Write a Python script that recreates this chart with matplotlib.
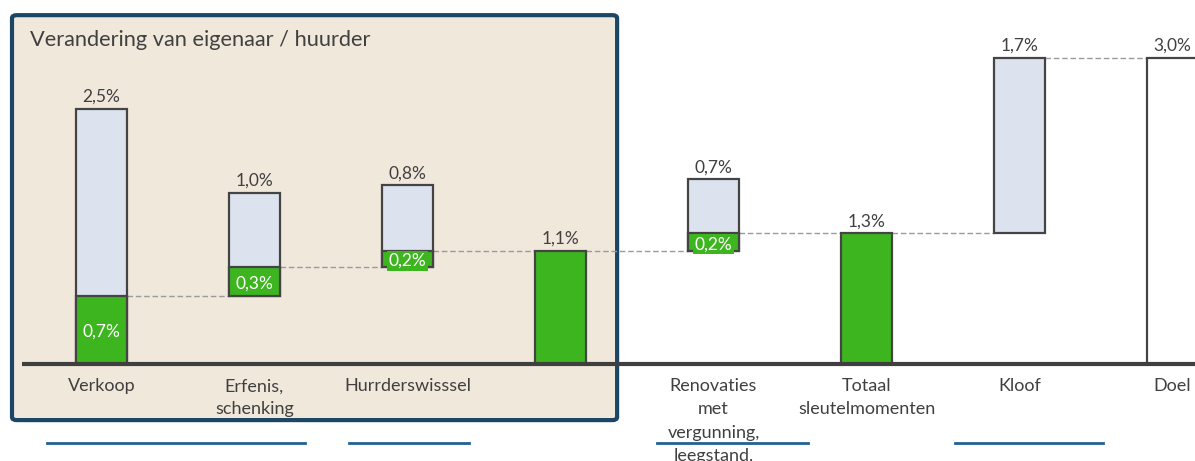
import matplotlib
matplotlib.use("Agg")
import matplotlib.pyplot as plt
from matplotlib.patches import FancyBboxPatch

plt.rcParams['font.family'] = ['Lato', 'DejaVu Sans']

# Waterfall data (percent)
categories = ['Verkoop', 'Erfenis,\nschenking', 'Hurrderswisssel', '',
              'Renovaties\nmet\nvergunning,\nleegstand,', 'Totaal\nsleutelmomenten',
              'Kloof', 'Doel']

# light grey-blue bars (bottom, top) and their label
light_bottom = [0.00, 0.67, 0.95, None, 1.11, None, 1.28, None]
light_top = [2.50, 1.68, 1.75, None, 1.81, None, 3.00, None]
light_labels = ['2,5%', '1,0%', '0,8%', None, '0,7%', None, '1,7%', None]

# green bars (bottom, top) and their label
green_bottom = [0.00, 0.67, 0.95, 0.00, 1.11, 0.00, None, None]
green_top = [0.67, 0.95, 1.11, 1.11, 1.28, 1.28, None, None]
green_inner_labels = ['0,7%', '0,3%', '0,2%', None, '0,2%', None, None, None]
green_top_labels = [None, None, None, '1,1%', None, '1,3%', None, None]

# target bar
goal_value = 3.0
goal_label = '3,0%'

# running level after each bar, used for the dashed connectors
levels = [0.67, 0.95, 1.11, 1.11, 1.28, 1.28, 3.00]

# decorative underlines below the labels (in category units)
underline_spans = [(-0.356, 1.33), (1.618, 2.402), (3.63, 4.618), (5.578, 6.546)]

GREEN = '#3db51f'
LIGHT = '#dce3ee'
EDGE = '#444444'
TEXT = '#404040'
BEIGE = '#f1e8dc'
NAVY = '#1c4666'
BLUE = '#236193'

W = 0.335
x = list(range(len(categories)))

fig = plt.figure(figsize=(11.95, 4.61), dpi=100)
ax = fig.add_axes([0, 0, 1, 1])
ax.set_xlim(-101.5 / 153, (1195 - 101.5) / 153)
ax.set_ylim(-97 / 102, 364 / 102)
ax.axis('off')

# highlighted box "Verandering van eigenaar / huurder"
box = FancyBboxPatch((x[0] - 0.585, -0.55), (x[3] + 0.37) - (x[0] - 0.585), 3.97,
                     boxstyle='round,pad=0,rounding_size=0.03',
                     facecolor=BEIGE, edgecolor=NAVY, linewidth=3, zorder=0)
ax.add_patch(box)
ax.text(x[0] - 0.467, 3.18, 'Verandering van eigenaar / huurder', fontsize=15.7,
        color=TEXT, va='center', ha='left', zorder=5)

# light bars
for i in x:
    if light_top[i] is None:
        continue
    ax.bar(i, light_top[i] - light_bottom[i], W, bottom=light_bottom[i],
           color=LIGHT, edgecolor=EDGE, linewidth=1.6, zorder=2)
    ax.annotate(light_labels[i], (i, light_top[i]), xytext=(0, 3),
                textcoords='offset points', ha='center', va='bottom',
                fontsize=12.5, color=TEXT, zorder=5)

# green bars
for i in x:
    if green_top[i] is None:
        continue
    ax.bar(i, green_top[i] - green_bottom[i], W, bottom=green_bottom[i],
           color=GREEN, edgecolor=EDGE, linewidth=1.6, zorder=3)
    if green_inner_labels[i]:
        ax.text(i, (green_top[i] + green_bottom[i]) / 2 - 0.02, green_inner_labels[i],
                ha='center', va='center', fontsize=12.5, color='white', zorder=6,
                bbox=dict(boxstyle='square,pad=0.12', facecolor=GREEN, edgecolor='none'))
    if green_top_labels[i]:
        ax.annotate(green_top_labels[i], (i, green_top[i]), xytext=(0, 3),
                    textcoords='offset points', ha='center', va='bottom',
                    fontsize=12.5, color=TEXT, zorder=5)

# goal bar
ax.bar(x[-1], goal_value, W, color='white', edgecolor=EDGE, linewidth=1.6, zorder=2)
ax.annotate(goal_label, (x[-1], goal_value), xytext=(0, 3), textcoords='offset points',
            ha='center', va='bottom', fontsize=12.5, color=TEXT, zorder=5)

# dashed connectors
for i, lvl in enumerate(levels):
    ax.plot([i + W / 2, i + 1 - W / 2], [lvl, lvl], color='#9a9a9a',
            linestyle=(0, (4, 2)), linewidth=1, zorder=1)

# baseline
ax.plot([-0.52, 8], [0, 0], color='#3f3f3f', linewidth=3, zorder=4,
        solid_capstyle='butt')

# category labels
for i, c in enumerate(categories):
    ax.text(i, -0.14, c, ha='center', va='top', fontsize=13, color=TEXT,
            linespacing=1.55, zorder=5)

# underlines
for a, b in underline_spans:
    ax.plot([a, b], [-0.775, -0.775], color=BLUE, linewidth=2, zorder=1)

fig.savefig('out.png', dpi=100)
